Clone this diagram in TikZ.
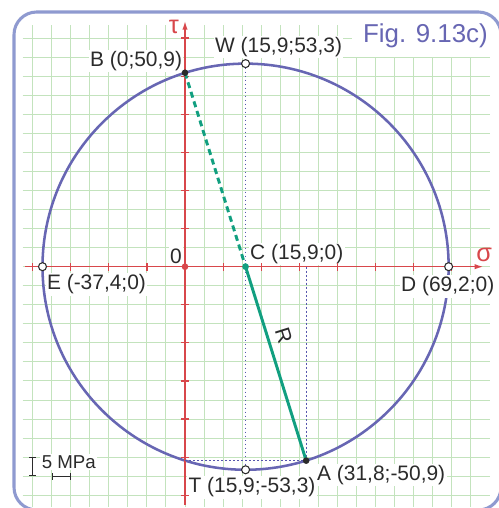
\documentclass[tikz,border=0pt]{standalone}
\usepackage{fontspec}
\setmainfont{Liberation Sans}
\usetikzlibrary{arrows.meta, positioning, calc}
\definecolor{frameblue}{HTML}{8F9AD0}
\definecolor{circblue}{HTML}{6766B3}
\definecolor{gridgreen}{HTML}{C3E3BD}
\definecolor{axisred}{HTML}{D8474B}
\definecolor{radgreen}{HTML}{119F80}
\definecolor{projblue}{HTML}{5756AE}
\definecolor{dkgray}{HTML}{2B2B2B}

\tikzset{
  ptlabel/.style={font=\fontsize{15.7}{18}\selectfont, text=dkgray, fill=white, inner sep=1pt},
  openpt/.style={circle, draw=dkgray, fill=white, line width=0.8pt, inner sep=0pt, minimum size=6pt},
  solidpt/.style={circle, fill=dkgray, inner sep=0pt, minimum size=5pt},
  projline/.style={projblue, line width=0.7pt, dash pattern=on 1.4pt off 1.6pt},
  axtick/.style={axisred, line width=0.9pt},
  axlabel/.style={font=\fontsize{19}{22}\selectfont, text=axisred, inner sep=0pt},
}

\begin{document}
\begin{tikzpicture}[x=0.75pt, y=0.75pt, >={Latex[length=6.5pt, width=4pt]}]

% Page
\useasboundingbox (0,0) rectangle (499,508);
\clip (0,0) rectangle (499,508);
\fill[white] (0,0) rectangle (499,508);

% Mohr plane: 1 unit = 1 MPa
\begin{scope}[shift={(138.75pt,180.98pt)}, x=2.8575pt, y=2.8575pt]

% --- Grid (5 MPa squares) ---
\foreach \s in {-40,-35,...,75}
  \draw[gridgreen, line width=0.75pt] (\s,-63) -- (\s,63.4);
\foreach \t in {-60,-55,...,60}
  \draw[gridgreen, line width=0.75pt] (-42.6,\t) -- (80,\t);

% Figure tag
\node[font=\fontsize{19.4}{22}\selectfont, text=circblue, fill=white, inner xsep=8pt, inner ysep=7pt] (figtag) at (63.1,60.6) {Fig. 9.13c)};

% --- Points ---
\coordinate (C) at (15.9,0);
\coordinate (B) at (0,50.9);
\coordinate (A) at (31.8,-50.9);
\coordinate (W) at (15.9,53.3);
\coordinate (T) at (15.9,-53.3);
\coordinate (E) at (-37.4,0);
\coordinate (D) at (69.2,0);
\coordinate (Asig) at (31.8,0);
\coordinate (Atau) at (0,-50.9);

% Mohr circle
\draw[circblue, line width=1.9pt] (C) circle (53.3);

% --- Labels ---
\node[ptlabel, anchor=south east, xshift=-1pt] (Blab) at (B) {B (0;50,9)};
\node[ptlabel, anchor=south west, xshift=-24pt, yshift=3.7pt] (Wlab) at (W) {W (15,9;53,3)};
\node[ptlabel, anchor=south west, xshift=2.3pt, yshift=1.2pt] (Clab) at (C) {C (15,9;0)};
\node[ptlabel, anchor=north west, xshift=2.2pt, yshift=-4.9pt] (Elab) at (E) {E (-37,4;0)};
\node[ptlabel, anchor=north, xshift=-0.7pt, yshift=-6.4pt] (Dlab) at (D) {D (69,2;0)};
\node[ptlabel, anchor=north west, xshift=7.1pt, yshift=-2pt] (Alab) at (A) {A (31,8;-50,9)};
\node[ptlabel, anchor=north, xshift=4.8pt, yshift=-4.8pt] (Tlab) at (T) {T (15,9;-53,3)};
\node[ptlabel] (zero) at (-2.4,2.8) {0};

% --- Axes ---
\coordinate (sigL) at (-42,0);
\coordinate (sigR) at (78.3,0);
\coordinate (tauB) at (0,-62.5);
\coordinate (tauT) at (0,64.5);
\draw[->, axisred, line width=1.1pt] (sigL) -- (sigR);
\draw[->, axisred, line width=1.1pt] (tauB) -- (tauT);
\foreach \s in {-40,-30,...,70}
  \draw[axtick] ([yshift=-3pt]\s,0) -- ([yshift=3pt]\s,0);
\foreach \t in {-60,-50,...,60}
  \draw[axtick] ([xshift=-3pt]0,\t) -- ([xshift=3pt]0,\t);
\node[axlabel] (siglab) at (78.5,3.1) {σ};
\node[axlabel] (taulab) at (-2.9,62.9) {τ};

% Projections
\draw[projline] (W) -- (T);
\draw[projline] (Asig) -- (A);
\draw[projline] (Atau) -- (A);

% Radius
\draw[radgreen, line width=2.2pt, dash pattern=on 4.5pt off 3pt] (B) -- (C);
\draw[radgreen, line width=2.2pt] (C) -- (A)
  node[pos=0.38, sloped, above=2pt, font=\fontsize{15.7}{18}\selectfont, text=dkgray] (Rlab) {R};

% Markers
\node[openpt] (Wp) at (W) {};
\node[openpt] (Tp) at (T) {};
\node[openpt] (Ep) at (E) {};
\node[openpt] (Dp) at (D) {};
\node[solidpt] (Bp) at (B) {};
\node[solidpt] (Ap) at (A) {};
\node[circle, fill=radgreen, inner sep=0pt, minimum size=5pt] (Cp) at (C) {};
\node[circle, fill=axisred, inner sep=0pt, minimum size=5pt] (O) at (0,0) {};

% --- Scale bar ---
\draw[dkgray, line width=0.8pt, {Bar[width=5pt]}-{Bar[width=5pt]}] (-40,-50) -- (-40,-55);
\draw[dkgray, line width=0.8pt, {Bar[width=5pt]}-{Bar[width=5pt]}] (-35,-55) -- (-30,-55);
\node[font=\fontsize{14}{16}\selectfont, text=dkgray, fill=white, inner sep=1pt] (scalelab) at (-30.5,-51.2) {5 MPa};

\end{scope}

% Frame
\draw[frameblue, line width=2.3pt, rounded corners=17pt] (14,496) rectangle (501,-2);

\end{tikzpicture}
\end{document}
